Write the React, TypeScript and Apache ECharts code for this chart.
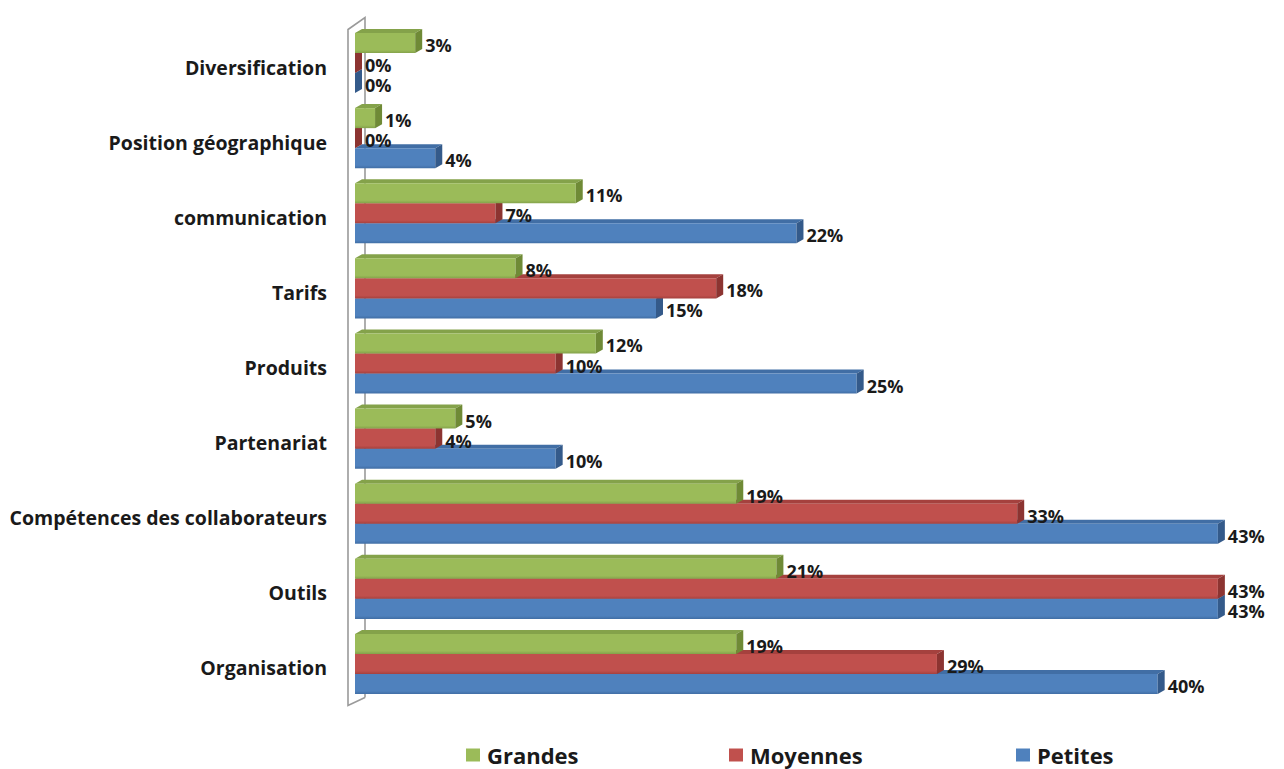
import React, { useEffect, useRef } from "react";
import * as echarts from "echarts";

// Categories listed bottom-to-top (ECharts category axes grow upward)
const categories = [
  "Organisation",
  "Outils",
  "Compétences des collaborateurs",
  "Partenariat",
  "Produits",
  "Tarifs",
  "communication",
  "Position géographique",
  "Diversification",
];

const seriesNames = ["Grandes", "Moyennes", "Petites"];

// Percentages per category, same order as `categories`
const grandes = [19, 21, 19, 5, 12, 8, 11, 1, 3];
const moyennes = [29, 43, 33, 4, 10, 18, 7, 0, 0];
const petites = [40, 43, 43, 10, 25, 15, 22, 4, 0];

const seriesValues = [grandes, moyennes, petites];

// front / top / side face colours for each series
const palette = [
  { front: "#9BBB59", top: "#84A24A", side: "#6F8A36" },
  { front: "#C0504D", top: "#A5413E", side: "#8C3431" },
  { front: "#4F81BD", top: "#416EA5", side: "#345A8A" },
];

const FONT = "'Open Sans', 'DejaVu Sans', sans-serif";
const GRID_LEFT = 355;
const GRID_TOP = 29.5;
const GRID_HEIGHT = 676;
const GRID_WIDTH = 903;
const X_MAX = 45;
const DEPTH_X = 7;
const DEPTH_Y = 4;

function makeRenderItem(s: number) {
  return (params: any, api: any) => {
    const v = api.value(0);
    const i = api.value(1);
    const [x0, c] = api.coord([0, i]);
    const [x1] = api.coord([v, i]);
    const band = api.size([0, 1])[1];
    const h = band * 0.2667;
    const top = c - band * 0.4533 + s * h;
    const bottom = top + h;
    const col = palette[s];
    return {
      type: "group",
      children: [
        {
          type: "polygon",
          shape: {
            points: [
              [x0, top],
              [x0 + DEPTH_X, top - DEPTH_Y],
              [x1 + DEPTH_X, top - DEPTH_Y],
              [x1, top],
            ],
          },
          style: { fill: col.top },
        },
        {
          type: "rect",
          shape: { x: x0, y: top, width: x1 - x0, height: h },
          style: {
            fill: new echarts.graphic.LinearGradient(0, 0, 0, 1, [
              { offset: 0, color: col.front },
              { offset: 0.85, color: col.front },
              { offset: 1, color: col.top },
            ]),
          },
        },
        {
          type: "polygon",
          shape: {
            points: [
              [x1, top],
              [x1 + DEPTH_X, top - DEPTH_Y],
              [x1 + DEPTH_X, bottom - DEPTH_Y],
              [x1, bottom],
            ],
          },
          style: { fill: col.side },
        },
        {
          type: "text",
          x: x1 + 10,
          y: (top + bottom) / 2 + 2,
          style: {
            text: `${v}%`,
            fill: "#1a1a1a",
            font: `bold 18px ${FONT}`,
            verticalAlign: "middle",
            align: "left",
          },
        },
      ],
    };
  };
}

// three legend entries placed individually along the bottom
const legendLefts = [466, 729, 1016];

export default function App() {
  const ref = useRef<HTMLDivElement>(null);

  useEffect(() => {
    if (!ref.current) return;
    const chart = echarts.init(ref.current, null, { renderer: "svg" });
    const wallFront = GRID_LEFT - 7;
    const wallBack = GRID_LEFT + 10;
    const wallTop = GRID_TOP;
    const wallBottom = GRID_TOP + GRID_HEIGHT;
    chart.setOption({
      animation: false,
      backgroundColor: "#ffffff",
      grid: {
        left: GRID_LEFT,
        top: GRID_TOP,
        width: GRID_WIDTH,
        height: GRID_HEIGHT,
        containLabel: false,
      },
      xAxis: {
        type: "value",
        min: 0,
        max: X_MAX,
        show: false,
      },
      yAxis: {
        type: "category",
        data: categories,
        axisLine: { show: false },
        axisTick: { show: false },
        axisLabel: {
          margin: 28,
          color: "#1a1a1a",
          fontFamily: FONT,
          fontWeight: "bold",
          fontSize: 19.5,
        },
      },
      legend: seriesNames.map((name, k) => ({
        data: [name],
        left: legendLefts[k],
        top: 744,
        padding: 0,
        icon: "rect",
        itemWidth: 14,
        itemHeight: 13,
        itemGap: 0,
        textStyle: {
          color: "#1a1a1a",
          fontFamily: FONT,
          fontWeight: "bold",
          fontSize: 22,
          padding: [0, 0, 0, 2],
        },
      })),
      graphic: [
        {
          type: "polyline",
          silent: true,
          z: 0,
          shape: {
            points: [
              [wallBack, wallBottom - 8],
              [wallBack, wallTop - 12],
              [wallFront, wallTop],
              [wallFront, wallBottom],
              [wallBack, wallBottom - 8],
            ],
          },
          style: { stroke: "#9a9a9a", lineWidth: 1.6, fill: "#ffffff" },
        },
      ],
      series: seriesNames.map((name, s) => ({
        type: "custom",
        name,
        z: 10 - s,
        itemStyle: { color: palette[s].front },
        encode: { x: 0, y: 1 },
        renderItem: makeRenderItem(s),
        data: seriesValues[s].map((v, i) => [v, i]),
      })),
    });
    return () => chart.dispose();
  }, []);

  return (
    <div
      ref={ref}
      style={{ position: "fixed", left: 0, top: 0, width: 1284, height: 769 }}
    />
  );
}
